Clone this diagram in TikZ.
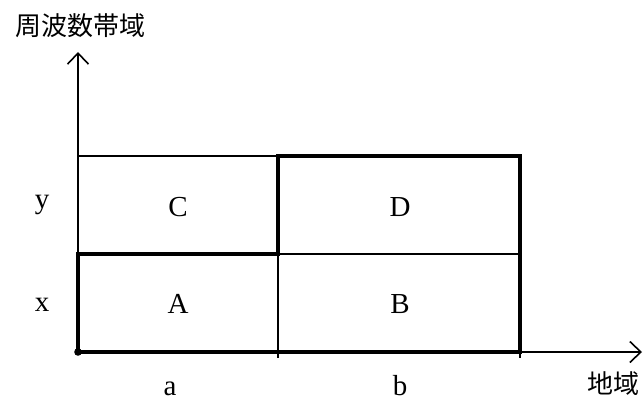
\documentclass[tikz,border=0pt]{standalone}
\usepackage{fontspec}
\setmainfont{Liberation Serif}
\newfontfamily\cjk{Noto Sans CJK JP}
\usetikzlibrary{arrows.meta}
\begin{document}
\begin{tikzpicture}[x=1pt,y=-1pt,
  thinline/.style={line width=1.2pt},
  thickline/.style={line width=4.8pt,line join=miter},
  axis/.style={line width=1.6pt,-{Straight Barb[length=11pt,width=21pt,line width=1.6pt]}},
  lbl/.style={font=\fontsize{29}{32}\selectfont,inner sep=0pt,anchor=base},
  cjklbl/.style={font=\cjk\fontsize{26}{30}\selectfont,inner sep=0pt}]
\useasboundingbox (0,0) rectangle (644,401);
\coordinate (O) at (78,352);
\coordinate (ytip) at (78,52);
\coordinate (xtip) at (642,352);
% axes
\draw[axis] (O) -- (ytip);
\draw[axis] (O) -- (xtip);
% thin grid
\draw[thinline] (78,156) -- (278,156);
\draw[thinline] (278,254) -- (520,254);
\draw[thinline] (278,254) -- (278,358);
\draw[thinline] (520,352) -- (520,358);
% thick outline
\draw[thickline] (78,352) -- (520,352) -- (520,156) -- (278,156) -- (278,254) -- (78,254) -- cycle;
\fill (O) circle (3.8pt);
% labels
\node[cjklbl] (yl) at (80,26) {周波数帯域};
\node[cjklbl] (xl) at (613,384) {地域};
\node[lbl] (la) at (170,395) {a};
\node[lbl] (lb) at (400,395) {b};
\node[lbl] (ly) at (42,208) {y};
\node[lbl] (lx) at (42,311) {x};
\node[lbl] (C) at (178,216) {C};
\node[lbl] (D) at (400,216) {D};
\node[lbl] (A) at (178,313) {A};
\node[lbl] (B) at (400,313) {B};
\end{tikzpicture}
\end{document}
